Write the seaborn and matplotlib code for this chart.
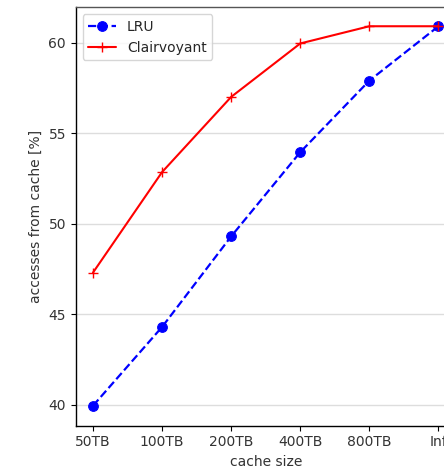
import matplotlib
matplotlib.use("Agg")
import matplotlib.pyplot as plt
import seaborn as sns
import pandas as pd

cache_sizes = ["50TB", "100TB", "200TB", "400TB", "800TB", "Inf"]
lru = [39.95, 44.3, 49.3, 53.95, 57.9, 60.9]
clairvoyant = [47.3, 52.85, 57.0, 59.95, 60.9, 60.9]

sns.set_style("ticks")
plt.rcParams["font.family"] = ["DejaVu Sans"]

df = pd.DataFrame({"cache size": cache_sizes, "LRU": lru, "Clairvoyant": clairvoyant})

fig = plt.figure(figsize=(4.44, 4.75), dpi=100)
ax = fig.add_axes([0.1705, 0.1038, 0.856, 0.881])

sns.lineplot(data=df, x="cache size", y="LRU", ax=ax, color="blue", linestyle="--",
             linewidth=1.6, marker="o", markersize=7, markeredgecolor="blue",
             label="LRU", sort=False)
sns.lineplot(data=df, x="cache size", y="Clairvoyant", ax=ax, color="red", linestyle="-",
             linewidth=1.5, marker="+", markersize=7, markeredgewidth=1,
             markeredgecolor="red", label="Clairvoyant", sort=False)

ax.set_xlim(-0.25, 5.25)
ax.set_ylim(38.85, 61.95)
ax.set_yticks([40, 45, 50, 55, 60])
ax.yaxis.grid(True, color="#dddddd", linewidth=1)
ax.xaxis.grid(False)
ax.set_axisbelow(True)
for s in ax.spines.values():
    s.set_color("black")
    s.set_linewidth(1)
ax.spines["top"].set_color("#555555")
ax.tick_params(axis="both", colors="black", labelcolor="#333333", labelsize=10, length=3.5)
ax.set_xlabel("cache size", fontsize=10, color="#333333")
ax.set_ylabel("accesses from cache [%]", fontsize=10, color="#333333")
ax.legend(loc="upper left", fontsize=10, frameon=True, framealpha=0.8)

fig.savefig("out.png", dpi=100)
